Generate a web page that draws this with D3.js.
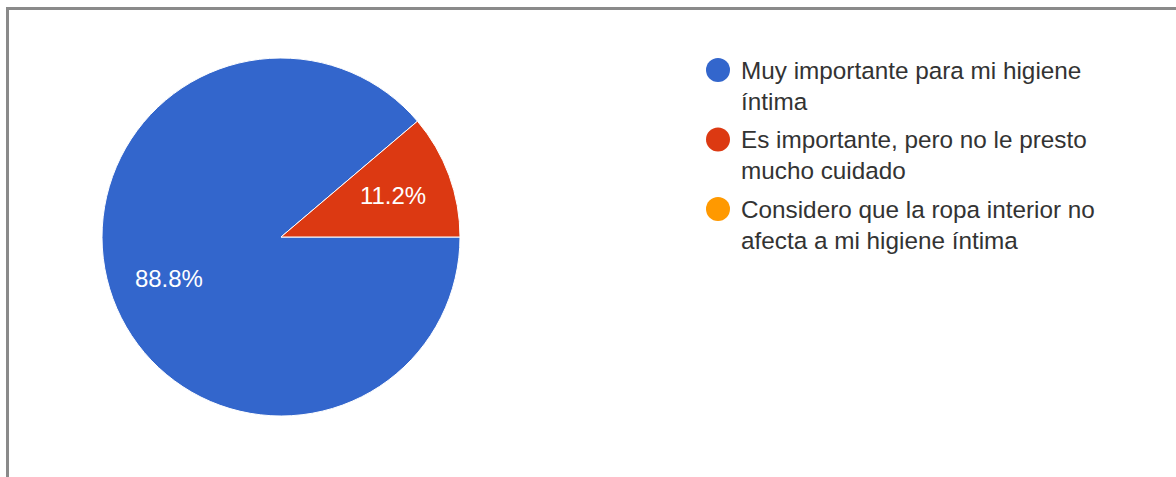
<!DOCTYPE html>
<html>
<head>
<meta charset="utf-8">
<script src="https://cdn.jsdelivr.net/npm/d3@7"></script>
<style>
  html, body { margin: 0; padding: 0; background: #fff; }
  svg { display: block; font-family: Arial, "Liberation Sans", sans-serif; }
</style>
</head>
<body>
<div id="chart"></div>
<script>
const categories = [
  ['Muy importante para mi higiene', 'íntima'],
  ['Es importante, pero no le presto', 'mucho cuidado'],
  ['Considero que la ropa interior no', 'afecta a mi higiene íntima']
];
const values = [88.8, 11.2, 0];
const colors = ['#3366cc', '#dc3912', '#ff9900'];

const width = 1176, height = 477;
const center = { x: 281, y: 237 };
const radius = 179;

const svg = d3.select('#chart').append('svg')
  .attr('width', width).attr('height', height);

// frame (top + left edges visible in the crop)
svg.append('rect').attr('x', 6).attr('y', 7).attr('width', width).attr('height', 3).attr('fill', '#8a8a8a');
svg.append('rect').attr('x', 6).attr('y', 7).attr('width', 3).attr('height', height).attr('fill', '#8a8a8a');

const total = d3.sum(values);
const pie = d3.pie().sort(null).value(d => d)
  .startAngle(Math.PI / 2).endAngle(Math.PI / 2 + 2 * Math.PI);
const arcs = pie(values);
const arc = d3.arc().innerRadius(0).outerRadius(radius);
const labelArc = d3.arc().innerRadius(radius * 0.667).outerRadius(radius * 0.667);

const g = svg.append('g').attr('transform', `translate(${center.x},${center.y})`);

g.selectAll('path.slice').data(arcs.filter(d => d.value > 0)).enter().append('path')
  .attr('class', 'slice')
  .attr('d', arc)
  .attr('fill', d => colors[d.index])
  .attr('stroke', '#fff')
  .attr('stroke-width', 1);

g.selectAll('text.pct').data(arcs.filter(d => d.value > 0)).enter().append('text')
  .attr('class', 'pct')
  .attr('transform', d => `translate(${labelArc.centroid(d)})`)
  .attr('text-anchor', 'middle')
  .attr('dy', '0.36em')
  .attr('fill', '#fff')
  .style('font-size', '24px')
  .text(d => (d.value / total * 100).toFixed(1) + '%');

// legend
const legendX = 718, legendY = 70, itemStep = 69.5, lineStep = 31;
const legend = svg.append('g');
const items = legend.selectAll('g.item').data(categories).enter().append('g')
  .attr('class', 'item')
  .attr('transform', (d, i) => `translate(${legendX},${legendY + i * itemStep})`);

items.append('circle').attr('r', 12).attr('fill', (d, i) => colors[i]);

items.each(function(lines) {
  const t = d3.select(this).append('text')
    .attr('x', 23).attr('y', 8.5)
    .attr('fill', '#333')
    .style('font-size', '24.3px');
  lines.forEach((line, j) => {
    t.append('tspan').attr('x', 23).attr('dy', j === 0 ? 0 : lineStep).text(line);
  });
});
</script>
</body>
</html>
